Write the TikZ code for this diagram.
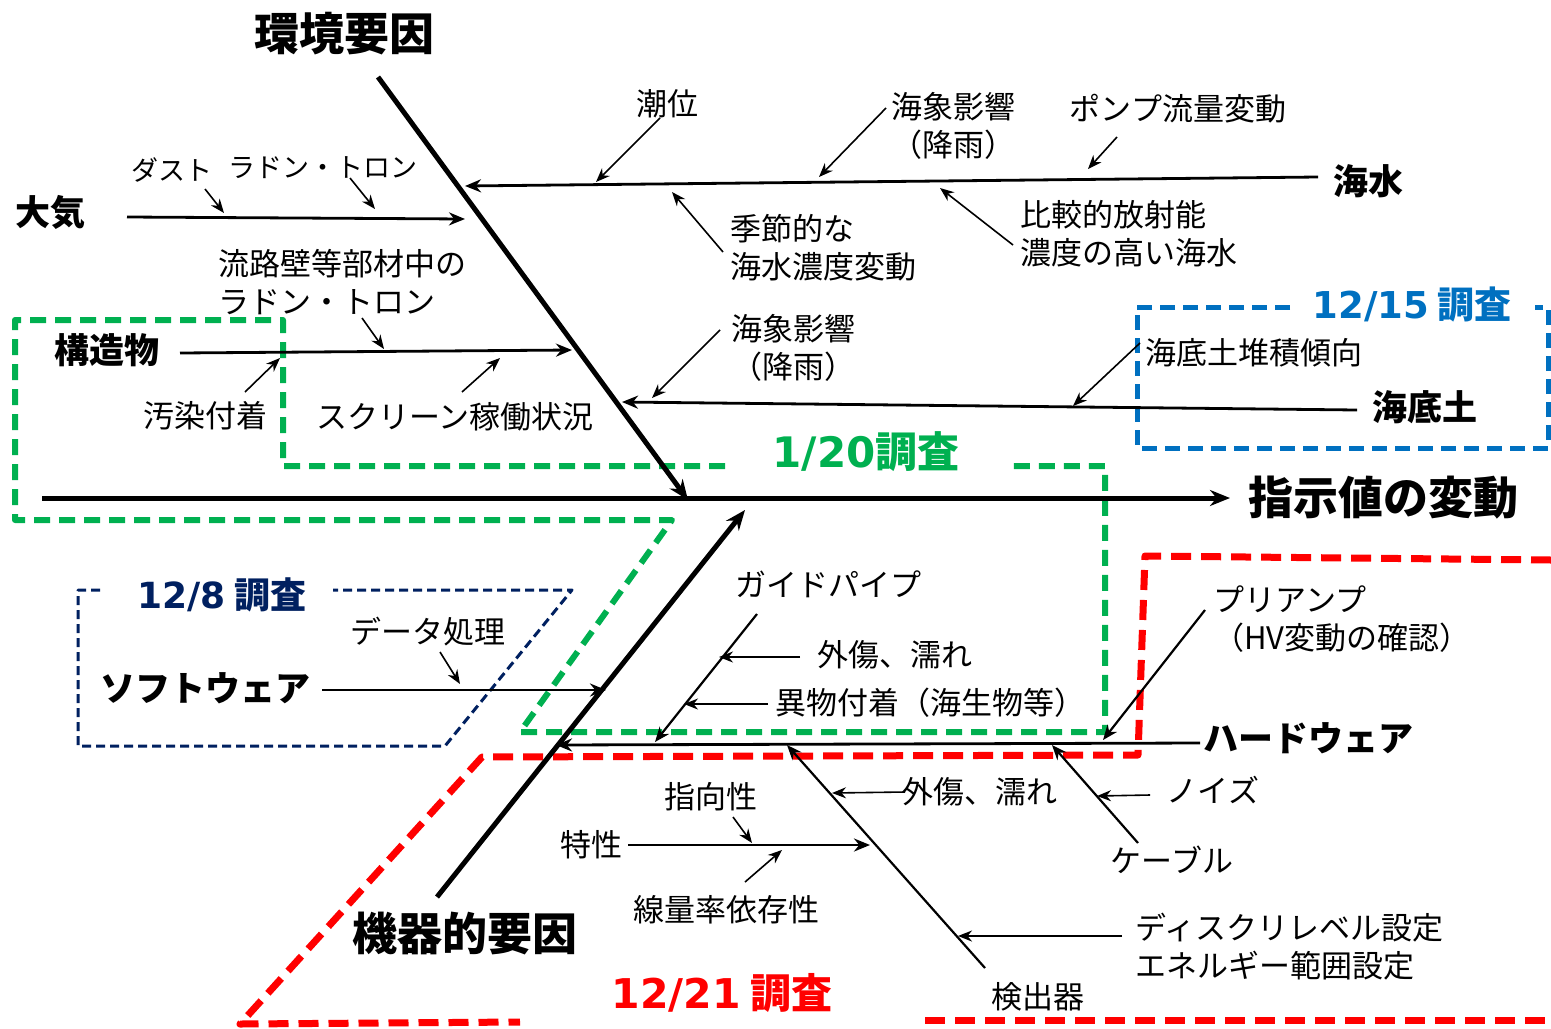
\documentclass[tikz,border=0pt]{standalone}
\usepackage{fontspec}
\setmainfont{Noto Sans CJK JP}
\newfontfamily\dvs{DejaVu Sans}
\usetikzlibrary{arrows.meta}
\definecolor{cgreen}{HTML}{00B050}
\definecolor{cblue}{HTML}{0070C0}
\definecolor{cnavy}{HTML}{002060}
\definecolor{cred}{HTML}{FF0000}
\begin{document}
\begin{tikzpicture}[x=0.5pt,y=-0.5pt,
  txt/.style={inner sep=0pt,font=\fontsize{15.5}{19}\selectfont},
  stxt/.style={inner sep=0pt,font=\fontsize{13.5}{16}\selectfont},
  lbl/.style={inner sep=0pt,font=\fontsize{17.5}{21}\selectfont\bfseries},
  big/.style={inner sep=0pt,font=\fontsize{22.5}{27}\selectfont\bfseries},
  datelbl/.style={inner sep=0pt,font=\bfseries},
  spine/.style={line width=2.5pt,-{Stealth[length=10pt,width=8pt]}},
  bone/.style={line width=1.4pt,-{Stealth[length=8pt,width=6.5pt]}},
  hbone/.style={line width=1.1pt,-{Stealth[length=7.5pt,width=6pt]}},
  sub/.style={line width=0.8pt,-{Stealth[length=7pt,width=5.5pt]}},
  gbox/.style={draw=cgreen,line width=3pt,dash pattern=on 8pt off 4.5pt,line join=round},
  bbox/.style={draw=cblue,line width=2.5pt,dash pattern=on 7.5pt off 4pt,line join=round},
  nbox/.style={draw=cnavy,line width=1.5pt,dash pattern=on 4.5pt off 2.5pt,line join=round},
  rbox/.style={draw=cred,line width=3.5pt,dash pattern=on 10pt off 5pt,line join=round}
]
\useasboundingbox (0,0) rectangle (1551,1028);

% ---------- dashed survey boxes ----------
\coordinate (g1) at (725,466); \coordinate (g2) at (283,466); \coordinate (g3) at (283,320);
\coordinate (g4) at (15,320); \coordinate (g5) at (15,520); \coordinate (g6) at (672,520);
\coordinate (g7) at (520,732); \coordinate (g8) at (1105,732); \coordinate (g9) at (1105,466);
\coordinate (g10) at (1005,466);
\draw[gbox] (g1)--(g2)--(g3)--(g4)--(g5)--(g6)--(g7)--(g8)--(g9)--(g10);
\node[datelbl,text=cgreen,font=\fontsize{21}{25}\selectfont\bfseries] (d120) at (866,452) {{\dvs 1/20}調査};

\coordinate (b1) at (1290,307); \coordinate (b2) at (1137,307); \coordinate (b3) at (1137,448);
\coordinate (b4) at (1548,448); \coordinate (b5) at (1548,307); \coordinate (b6) at (1535,307);
\draw[bbox] (b1)--(b2)--(b3)--(b4)--(b5)--(b6);
\node[datelbl,text=cblue,font=\fontsize{18.5}{22}\selectfont\bfseries] (d1215) at (1412,305) {{\dvs 12/15} 調査};

\coordinate (n1) at (100,590); \coordinate (n2) at (78,590); \coordinate (n3) at (78,746);
\coordinate (n4) at (445,746); \coordinate (n5) at (572,590); \coordinate (n6) at (333,590);
\draw[nbox] (n1)--(n2)--(n3)--(n4)--(n5)--(n6);
\node[datelbl,text=cnavy,font=\fontsize{18}{22}\selectfont\bfseries] (d128) at (222,595) {{\dvs 12/8} 調査};

\coordinate (r1) at (1551,560); \coordinate (r2) at (1145,556); \coordinate (r3) at (1138,755);
\coordinate (r4) at (482,757); \coordinate (r5) at (240,1024); \coordinate (r6) at (520,1022);
\coordinate (r7) at (925,1020); \coordinate (r8) at (1551,1020);
\draw[rbox] (r1)--(r2)--(r3)--(r4)--(r5)--(r6);
\draw[rbox] (r7)--(r8);
\node[datelbl,text=cred,font=\fontsize{20.5}{24}\selectfont\bfseries] (d1221) at (722,993) {{\dvs 12/21} 調査};

% ---------- main spine and big bones ----------
\coordinate (sp0) at (42,498); \coordinate (sp1) at (1230,498);
\draw[spine] (sp0)--(sp1);
\node[big,anchor=west] (eff) at (1248,498) {指示値の変動};

\coordinate (env0) at (378,77); \coordinate (env1) at (688,500);
\draw[spine] (env0)--(env1);
\node[big] (envL) at (344,34) {環境要因};

\coordinate (mac0) at (437,897); \coordinate (mac1) at (745,510);
\draw[spine] (mac0)--(mac1);
\node[big] (macL) at (465,933) {機器的要因};

% ---------- 大気 ----------
\node[lbl] (taiki) at (51,212) {大気};
\coordinate (tk0) at (127,217); \coordinate (tk1) at (465,219);
\draw[bone] (tk0)--(tk1);
\node[stxt] (dust) at (172,170) {ダスト};
\coordinate (ds0) at (205,189); \coordinate (ds1) at (224,213);
\draw[sub] (ds0)--(ds1);
\node[stxt] (rdn1) at (323,168) {ラドン・トロン};
\coordinate (rd0) at (350,178); \coordinate (rd1) at (375,209);
\draw[sub] (rd0)--(rd1);

% ---------- 海水 ----------
\node[lbl] (kaisui) at (1368,181) {海水};
\coordinate (ks0) at (1318,177); \coordinate (ks1) at (465,186);
\draw[bone] (ks0)--(ks1);
\node[txt] (choi) at (667,104) {潮位};
\coordinate (ch0) at (660,118); \coordinate (ch1) at (596,182);
\draw[sub] (ch0)--(ch1);
\node[txt,align=center] (kaisho1) at (953,126) {海象影響\\（降雨）};
\coordinate (kh0) at (886,108); \coordinate (kh1) at (819,177);
\draw[sub] (kh0)--(kh1);
\node[txt] (pump) at (1178,109) {ポンプ流量変動};
\coordinate (pm0) at (1117,137); \coordinate (pm1) at (1088,169);
\draw[sub] (pm0)--(pm1);
\node[txt,align=left,anchor=west] (kisetsu) at (730,248) {季節的な\\海水濃度変動};
\coordinate (kt0) at (723,252); \coordinate (kt1) at (672,192);
\draw[sub] (kt0)--(kt1);
\node[txt,align=left,anchor=west] (hikaku) at (1020,234) {比較的放射能\\濃度の高い海水};
\coordinate (hk0) at (1013,245); \coordinate (hk1) at (940,188);
\draw[sub] (hk0)--(hk1);

% ---------- 構造物 ----------
\node[lbl] (kozo) at (107,350) {構造物};
\coordinate (kz0) at (180,353); \coordinate (kz1) at (572,350);
\draw[bone] (kz0)--(kz1);
\node[txt,align=left,anchor=west] (ryuro) at (218,282) {流路壁等部材中の\\ラドン・トロン};
\coordinate (rr0) at (362,318); \coordinate (rr1) at (384,349);
\draw[sub] (rr0)--(rr1);
\node[txt] (osen) at (205,416) {汚染付着};
\coordinate (os0) at (245,392); \coordinate (os1) at (280,358);
\draw[sub] (os0)--(os1);
\node[txt] (screen) at (455,417) {スクリーン稼働状況};
\coordinate (sc0) at (462,392); \coordinate (sc1) at (500,358);
\draw[sub] (sc0)--(sc1);

% ---------- 海底土 ----------
\node[lbl] (teido) at (1425,407) {海底土};
\coordinate (td0) at (1357,410); \coordinate (td1) at (622,402);
\draw[bone] (td0)--(td1);
\node[txt,align=center] (kaisho2) at (793,348) {海象影響\\（降雨）};
\coordinate (k20) at (720,330); \coordinate (k21) at (652,398);
\draw[sub] (k20)--(k21);
\node[txt,anchor=west] (taiseki) at (1145,353) {海底土堆積傾向};
\coordinate (ts0) at (1140,343); \coordinate (ts1) at (1073,406);
\draw[sub] (ts0)--(ts1);

% ---------- ソフトウェア ----------
\node[lbl] (soft) at (205,688) {ソフトウェア};
\coordinate (sw0) at (322,690); \coordinate (sw1) at (606,690);
\draw[bone] (sw0)--(sw1);
\node[txt] (data) at (428,632) {データ処理};
\coordinate (dt0) at (440,652); \coordinate (dt1) at (460,684);
\draw[sub] (dt0)--(dt1);

% ---------- ハードウェア ----------
\node[lbl] (hard) at (1308,738) {ハードウェア};
\coordinate (hw0) at (1200,743); \coordinate (hw1) at (556,745);
\draw[bone] (hw0)--(hw1);

\node[txt] (guide) at (828,584) {ガイドパイプ};
\coordinate (gp0) at (757,614); \coordinate (gp1) at (655,742);
\draw[hbone] (gp0)--(gp1);
\node[txt] (gaisho1) at (895,655) {外傷、濡れ};
\coordinate (gs0) at (800,657); \coordinate (gs1) at (719,657);
\draw[sub] (gs0)--(gs1);
\node[txt] (ibutsu) at (930,703) {異物付着（海生物等）};
\coordinate (ib0) at (768,704); \coordinate (ib1) at (684,704);
\draw[sub] (ib0)--(ib1);

\node[txt,align=left,anchor=west] (preamp) at (1213,619) {プリアンプ\\（HV変動の確認）};
\coordinate (pa0) at (1205,610); \coordinate (pa1) at (1103,740);
\draw[hbone] (pa0)--(pa1);

\node[txt] (kenshutsu) at (1038,997) {検出器};
\coordinate (ke0) at (985,968); \coordinate (ke1) at (787,745);
\draw[hbone] (ke0)--(ke1);
\node[txt] (tokusei) at (591,845) {特性};
\coordinate (tk20) at (628,845); \coordinate (tk21) at (870,845);
\draw[bone] (tk20)--(tk21);
\node[txt] (shiko) at (711,797) {指向性};
\coordinate (sk0) at (733,817); \coordinate (sk1) at (752,843);
\draw[sub] (sk0)--(sk1);
\node[txt] (senryo) at (726,910) {線量率依存性};
\coordinate (sr0) at (745,882); \coordinate (sr1) at (782,850);
\draw[sub] (sr0)--(sr1);
\node[txt] (gaisho2) at (980,792) {外傷、濡れ};
\coordinate (g20) at (905,792); \coordinate (g21) at (832,793);
\draw[sub] (g20)--(g21);
\node[txt,align=left,anchor=west] (disc) at (1135,947) {ディスクリレベル設定\\エネルギー範囲設定};
\coordinate (dc0) at (1122,936); \coordinate (dc1) at (958,936);
\draw[sub,line width=1.1pt] (dc0)--(dc1);

\node[txt] (cable) at (1172,860) {ケーブル};
\coordinate (cb0) at (1138,843); \coordinate (cb1) at (1052,745);
\draw[hbone] (cb0)--(cb1);
\node[txt] (noise) at (1213,790) {ノイズ};
\coordinate (nz0) at (1150,795); \coordinate (nz1) at (1097,796);
\draw[sub] (nz0)--(nz1);
\end{tikzpicture}
\end{document}
